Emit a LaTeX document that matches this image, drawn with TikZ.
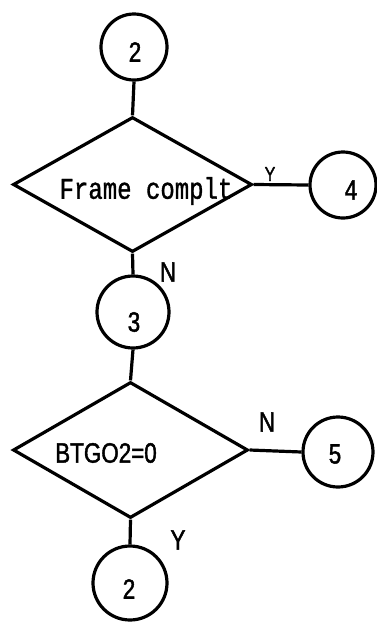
\documentclass[tikz,border=0pt]{standalone}
\usepackage{fontspec}
\usetikzlibrary{shapes.geometric}
\newfontfamily\typefont[FakeStretch=0.8,FakeBold=1.2]{Liberation Mono}
\newfontfamily\labfont[FakeStretch=0.8,FakeBold=1.5]{Liberation Sans}
\tikzset{
  ln/.style={line width=3.2pt},
  conn/.style={draw, circle, ln, inner sep=0pt},
  dec/.style={draw, diamond, ln, inner sep=0pt},
  lab/.style={font=\labfont\fontsize{28}{28}\selectfont, inner sep=0pt},
}
\begin{document}
\begin{tikzpicture}[x=1pt,y=-1pt]
\useasboundingbox (0,0) rectangle (376,622);
% top connector 2
\node[conn, minimum size=66pt] (c2a) at (134,47) {};
\node[lab] (t2a) at (135,52) {2};
% decision 1
\node[dec, minimum width=239pt, minimum height=135pt] (d1) at (132.5,184.5) {};
\node[font=\typefont\fontsize{30}{30}\selectfont, inner sep=0pt] (d1t) at (146,191) {Frame complt};
% connector 4
\node[conn, minimum size=66pt] (c4) at (343,185) {};
\node[lab] (t4) at (351,190) {4};
% connector 3
\node[conn, minimum size=72pt] (c3) at (133,312) {};
\node[lab] (t3) at (134,322) {3};
% decision 2
\node[dec, minimum width=235pt, minimum height=136pt] (d2) at (130.5,450) {};
\node[lab] (d2t) at (106,453) {BTGO2=0};
% connector 5
\node[conn, minimum size=70pt] (c5) at (338,452) {};
\node[lab] (t5) at (335,454) {5};
% bottom connector 2
\node[conn, minimum size=74pt] (c2b) at (130,583) {};
\node[lab] (t2b) at (129,589) {2};
% connectors
\draw[ln] (c2a.south) -- (d1.north);
\draw[ln] (d1.east) -- (c4.west);
\draw[ln] (d1.south) -- (c3.north);
\draw[ln] (c3.south) -- (d2.north);
\draw[ln] (d2.east) -- (c5.west);
\draw[ln] (d2.south) -- (c2b.north);
% branch labels
\node[lab, font=\labfont\fontsize{20}{20}\selectfont] (ly1) at (270,174) {Y};
\node[lab] (ln1) at (168,272) {N};
\node[lab] (ln2) at (267,422) {N};
\node[lab] (ly2) at (178,540) {Y};
\end{tikzpicture}
\end{document}
